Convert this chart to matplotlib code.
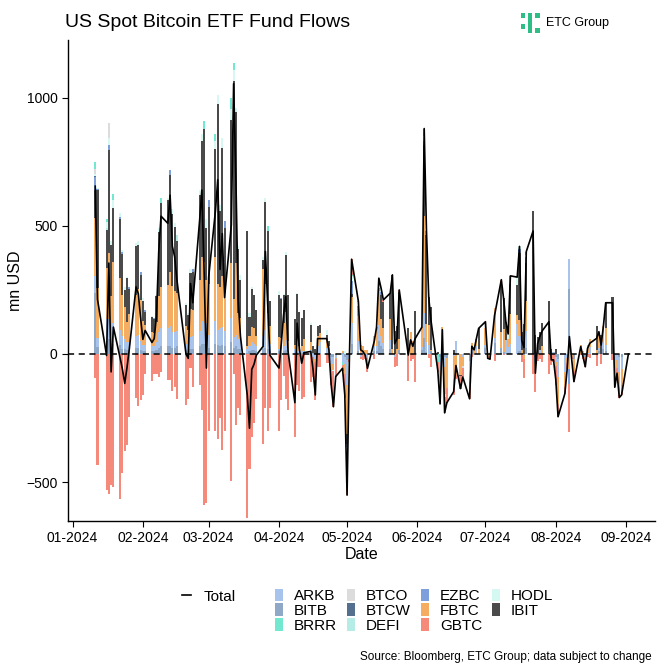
import numpy as np
import pandas as pd
import matplotlib
matplotlib.use("Agg")
import matplotlib.pyplot as plt
import matplotlib.dates as mdates
from matplotlib.patches import Patch, Rectangle
from matplotlib.lines import Line2D

plt.rcParams['font.family'] = ['Liberation Sans', 'DejaVu Sans']

# trading days (US market holidays removed)
holidays = ['2024-01-15', '2024-02-19', '2024-03-29', '2024-05-27', '2024-06-19', '2024-07-04']
dates = pd.bdate_range('2024-01-11', '2024-09-02')
dates = dates[~dates.isin(pd.to_datetime(holidays))]

# daily flows, mn USD (one row per month: Jan, Feb, Mar, Apr, May, Jun, Jul, Aug + 2 Sep)
ibit = [112, 386, 150, 400, 200, 210, 230, 160, 66, 170, 100, 190, 170, 100,
        80, 50, 60, 55, 100, 250, 330, 330, 380, 280, 250, 200, 80, 60, 140, 150, 330, 450, 520, 200,
        300, 420, 700, 300, 500, 250, 560, 850, 590, 250, 150, 450, 75, 150, 130, 100, 35, 320, 320, 95,
        165, 150, 110, 220, 180, 100, 150, 130, 110, 110, 70, 25, 20, 40, 30, 20, 20, 0, 0, 0, 0, 0,
        -37, 0, 12, 0, 0, 0, 0, 0, 0, 0, 0, 94, 100, 100, 290, 91, 89, 182, 102, 0, 0, 169,
        0, 274, 349, 112, 168, 6, 0, 0, 0, 0, 14, 0, -2, 0, 0, 0, 0, 0, 82,
        0, 0, 0, 0, 187, 121, 72, 0, 120, 117, 260, 70, 117, 150, 560, 73, 66, 70, 90, 205, 21, 0,
        20, 0, 0, 0, 0, 0, 0, 0, 0, 0, 0, 0, 93, 0, 75, 0, 100, 224, 0, 0, 0, 0, 0]
fbtc = [227, 195, 200, 260, 150, 240, 200, 160, 125, 80, 110, 160, 180, 160,
        90, 80, 55, 50, 80, 140, 160, 170, 210, 180, 160, 150, 70, 55, 110, 100, 200, 250, 240, 170,
        200, 250, 180, 160, 200, 150, 215, 150, 280, 100, 80, 10, 40, 60, 60, 40, 260, 180, 100, 70,
        45, 45, 90, 110, 30, 15, 55, 20, 20, 50, 30, 0, -10, 40, 37, 30, 15, -50, -22, -3, 6, -36,
        -191, -5, 103, 100, 30, 22, 10, 15, 40, 65, 131, 67, 58, 84, 19, 0, 19, 44, -1, 84, 50, 0,
        77, 379, 69, 76, 4, 0, -52, 83, -106, -114, -92, -83, -84, -35, -35, 25, 21, 26, 18,
        65, -7, 2, 117, 61, 91, 0, 32, 115, 36, 61, 15, -14, 117, 0, -30, 0, 0, 30, 0, 0, 0,
        -15, -104, -58, -20, -60, -10, -47, 34, 10, 0, 30, 28, 15, 62, 0, 62, 65, 0, -10, -30, -60, -60, 0]
arkb = [65, 35, 85, 75, 50, 80, 60, 50, 40, 30, 30, 45, 50, 35,
        25, 25, 20, 20, 30, 60, 70, 70, 80, 60, 60, 60, 25, 25, 45, 50, 60, 90, 80, 90,
        50, 90, 60, 70, 70, 60, 95, 40, 45, 40, 40, 15, 20, 30, 25, 20, 50, 70, 40, 30,
        10, 10, 20, 40, 15, 20, 20, 8, 5, 8, 10, -10, -20, 25, 40, 20, 10, -30, -31, -10, -31, -31,
        -98, -20, 80, 40, -10, 0, 0, -15, 20, 20, 65, 39, 24, 33, 0, -10, 0, 0, 0, 0, 0, 0,
        14, 100, 42, 36, 0, 0, -56, 21, -42, 0, -7, 51, 0, -10, -41, 9, -5, 30, 0,
        14, 0, -9, 20, 0, 0, 53, 27, 40, 117, 59, 0, 0, 66, 0, -20, 0, 17, 0, 0, 0, 8,
        -20, -70, -69, -15, 117, 0, 0, 0, 0, 0, 5, 29, 0, 12, 0, 30, 25, 0, -102, -25, -60, -50, 0]
bitb = [238, 26, 50, 60, 25, 40, 35, 20, 20, 15, 15, 25, 25, 15,
        12, 10, 10, 10, 15, 25, 30, 30, 30, 25, 25, 30, 15, 12, 20, 20, 30, 40, 40, 30,
        25, 40, 35, 30, 35, 30, 45, 25, 30, 20, 20, 5, 11, 15, 15, 10, 20, 25, 20, 10,
        10, 8, 10, 15, 5, 0, 8, 5, 5, 2, 5, 5, 0, 5, 5, 5, 5, -10, -10, -5, 5, -10,
        -25, 0, 40, 10, 5, 10, 5, 0, 10, 10, 50, 30, 20, 20, 0, 0, 0, 15, 0, 0, 0, 0,
        14, 61, 6, 0, 10, 0, -11, 0, -10, -17, 0, 0, 0, 0, -29, 8, 0, 0, 0,
        22, 0, 0, 41, 25, 7, 0, 0, 0, 0, 13, 0, -4, 24, 0, -10, 0, 0, 0, 0, 0, 0,
        -10, -20, 0, 0, 255, 0, -20, 0, 0, -10, 0, 0, 0, 13, 0, 18, 10, 0, 0, 0, -10, -10, 0]
gbtc = [-95, -434, -531, -545, -510, -520, -567, -466, -378, -355, -245, -170, -205, -180,
        -160, -80, -105, -80, -80, -90, -70, -100, -100, -145, -130, -175, -200, -176, -55, -130, -120, -220, -590, -580,
        -300, -300, -330, -250, -375, -300, -495, -80, -276, -210, -240, -640, -449, -323, -270, -175, -350, -210, -300, -210,
        -300, -180, -85, -175, -220, -325, -120, -145, -176, -166, -110, -80, -150, -50, -52, -35, -34, -30, -140, -70, -25, -93,
        -167, -5, 63, 4, -9, -22, -20, -56, -20, 10, 27, 0, 9, 0, 0, -41, -48, 9, -105, -29, -20, -109,
        0, 28, 14, -15, -52, -40, -76, -9, -62, -59, -62, -13, -49, -34, -70, -12, 0, 4, 0,
        0, -10, -13, -28, 17, -3, 0, 0, 23, 0, 0, -32, -74, 14, -80, -88, -26, -19, -30, -79, -44, -31,
        -75, -51, -28, -25, -186, -10, -41, -5, -20, -40, -13, -15, -47, 0, -40, 0, 0, -24, -18, -20, -40, -40, 0]

# smaller funds, only the days with flows
ezbc = {'2024-01-11': 50, '2024-01-12': 3, '2024-01-17': 20, '2024-01-22': 10, '2024-01-23': 8,
        '2024-01-26': 8, '2024-01-31': 10, '2024-02-02': 7, '2024-02-06': 5, '2024-02-13': 20,
        '2024-02-23': 10, '2024-03-01': 25, '2024-03-08': 30, '2024-04-02': 7, '2024-05-01': -12,
        '2024-05-03': 50, '2024-05-06': 36, '2024-05-15': 10, '2024-05-16': 13, '2024-06-04': 16,
        '2024-07-12': 7, '2024-07-16': 17, '2024-07-19': 23, '2024-08-07': -58}
hodl = {'2024-01-11': 11, '2024-01-12': 2, '2024-01-16': 25, '2024-01-17': 30, '2024-01-18': 15,
        '2024-01-19': 30, '2024-01-22': 15, '2024-01-23': 8, '2024-01-24': 12, '2024-01-25': 7,
        '2024-01-29': 12, '2024-01-30': 15, '2024-02-01': 10, '2024-02-05': 5, '2024-02-07': 5,
        '2024-02-08': 16, '2024-02-12': 10, '2024-02-14': 20, '2024-02-15': 15, '2024-02-20': 10,
        '2024-02-21': 7, '2024-02-22': 15, '2024-02-26': 20, '2024-02-27': 30, '2024-02-29': 35,
        '2024-03-04': 30, '2024-03-05': 35, '2024-03-06': 20, '2024-03-07': 40, '2024-03-11': 40,
        '2024-03-12': 45, '2024-03-13': 15, '2024-03-14': 10, '2024-03-15': 20, '2024-03-19': 13,
        '2024-03-20': 8, '2024-03-25': 15, '2024-03-26': 15, '2024-04-01': 15, '2024-04-03': 5,
        '2024-04-04': 15, '2024-04-09': 7, '2024-04-10': 2, '2024-04-12': 1, '2024-04-15': 5,
        '2024-04-22': 20, '2024-04-25': -3, '2024-04-30': 10, '2024-05-01': -21, '2024-05-03': 20,
        '2024-05-06': 15, '2024-05-15': 13, '2024-05-16': 14, '2024-06-04': 22, '2024-06-06': 11,
        '2024-07-11': 19, '2024-07-15': 30, '2024-07-16': 10, '2024-07-19': 6}
brrr = {'2024-01-11': 29, '2024-01-16': 10, '2024-01-19': 25, '2024-02-09': 18, '2024-02-28': 30,
        '2024-03-04': 30, '2024-03-11': 45, '2024-03-12': 25, '2024-03-27': 20, '2024-04-29': -11,
        '2024-05-03': 2, '2024-06-10': -31}
btco = {'2024-01-11': 17, '2024-01-17': 55, '2024-06-13': -10, '2024-06-21': -11, '2024-07-01': 25}
btcw = {'2024-01-11': 1}
defi = {'2024-01-16': 5, '2024-02-16': 25}

funds = ['ARKB', 'BITB', 'BRRR', 'BTCO', 'BTCW', 'DEFI', 'EZBC', 'FBTC', 'GBTC', 'HODL', 'IBIT']
colors = {'ARKB': '#a9c4ec', 'BITB': '#8fa8c8', 'BRRR': '#72e8d0', 'BTCO': '#dcdcdc',
          'BTCW': '#55708f', 'DEFI': '#b5ede6', 'EZBC': '#7d9fdb', 'FBTC': '#f5ad62',
          'GBTC': '#f58a7a', 'HODL': '#d6f8f3', 'IBIT': '#4a4a4a'}


def full(d):
    return np.array([d.get(x.strftime('%Y-%m-%d'), 0) for x in dates], dtype=float)


flows = {'IBIT': np.array(ibit, float), 'FBTC': np.array(fbtc, float), 'ARKB': np.array(arkb, float),
         'BITB': np.array(bitb, float), 'GBTC': np.array(gbtc, float), 'EZBC': full(ezbc),
         'HODL': full(hodl), 'BRRR': full(brrr), 'BTCO': full(btco), 'BTCW': full(btcw),
         'DEFI': full(defi)}
total = sum(flows.values())

fig = plt.figure(figsize=(6.7, 6.7), dpi=100)
ax = fig.add_axes([0.1015, 0.2224, 0.876, 0.718])

# stacked bars, positives up and negatives down
stack_order = ['BITB', 'ARKB', 'FBTC', 'IBIT', 'EZBC', 'BTCW', 'DEFI', 'HODL', 'BTCO', 'BRRR', 'GBTC']
x = mdates.date2num(dates)
pos_base = np.zeros(len(x))
neg_base = np.zeros(len(x))
for f in stack_order:
    v = flows[f]
    pos = np.where(v > 0, v, 0)
    neg = np.where(v < 0, v, 0)
    ax.bar(x, pos, bottom=pos_base, width=0.9, color=colors[f], linewidth=0)
    ax.bar(x, neg, bottom=neg_base, width=0.9, color=colors[f], linewidth=0)
    pos_base += pos
    neg_base += neg

ax.plot(x, total, color='black', lw=1.2)
ax.axhline(0, color='black', lw=1.1, ls=(0, (4, 3)))

ax.set_ylim(-652, 1226)
ax.set_xlim(mdates.date2num(pd.Timestamp('2023-12-30')), mdates.date2num(pd.Timestamp('2024-09-13')) + 0.7)
ax.set_yticks([-500, 0, 500, 1000])
ax.xaxis.set_major_locator(mdates.MonthLocator())
ax.xaxis.set_major_formatter(mdates.DateFormatter('%m-%Y'))
ax.tick_params(axis='both', labelsize=10, length=4, color='black', labelcolor='black')
for s in ['top', 'right']:
    ax.spines[s].set_visible(False)
for s in ['left', 'bottom']:
    ax.spines[s].set_linewidth(1.0)
ax.set_xlabel('Date', fontsize=11.5, labelpad=1)
ax.set_ylabel('mn USD', fontsize=11.5, labelpad=2)

fig.text(0.097, 0.967, 'US Spot Bitcoin ETF Fund Flows', fontsize=14, va='center', ha='left')

# logo
green = '#2ebd85'
for (lx, ly, w, h) in [(521, 13, 4, 5), (521, 24, 4, 5), (528, 13, 4, 20),
                       (535, 13, 5, 5), (535, 28, 5, 5)]:
    fig.add_artist(Rectangle((lx / 670, 1 - (ly + h) / 670), w / 670, h / 670,
                             transform=fig.transFigure, color=green, lw=0))
fig.text(546 / 670, 1 - 23 / 670, 'ETC Group', fontsize=9, va='center', ha='left')

# legends
fig.legend([Line2D([0], [0], color='black', lw=1.2)], ['Total'],
           loc='upper left', bbox_to_anchor=(168 / 670, 1 - 576 / 670),
           frameon=False, fontsize=11, handlelength=0.6, handletextpad=0.8)
handles = [Patch(facecolor=colors[f], edgecolor='none') for f in funds]
fig.legend(handles, funds, loc='upper left', bbox_to_anchor=(264 / 670, 1 - 578 / 670), ncol=4,
           frameon=False, fontsize=11, handlelength=0.55, handleheight=0.9, handletextpad=0.7,
           columnspacing=0.65, labelspacing=0.0, borderpad=0.2)

fig.text(652 / 670, 1 - 657 / 670, 'Source: Bloomberg, ETC Group; data subject to change',
         fontsize=8.5, ha='right', va='center')

fig.savefig('out.png', dpi=100)
